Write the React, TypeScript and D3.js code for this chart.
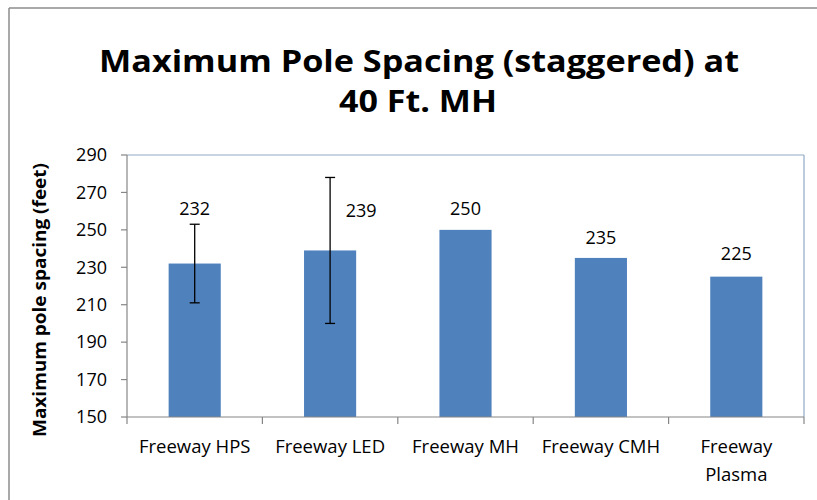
import React from 'react';
import * as d3 from 'd3';

const categories = ['Freeway HPS', 'Freeway LED', 'Freeway MH', 'Freeway CMH', 'Freeway Plasma'];
const tickLines = [['Freeway HPS'], ['Freeway LED'], ['Freeway MH'], ['Freeway CMH'], ['Freeway', 'Plasma']];
const values = [232, 239, 250, 235, 225];
const errors = [21, 39, 0, 0, 0];
// where each data label sits (in axis units), labels were dragged by hand in the original
const labelAt = [261.5, 260, 261.5, 246, 237.5];
const yTicks = [150, 170, 190, 210, 230, 250, 270, 290];

const titleLines = ['Maximum Pole Spacing (staggered) at', '40 Ft. MH'];
const yTitle = 'Maximum pole spacing (feet)';

const font = "'Open Sans', 'Liberation Sans', sans-serif";

const App: React.FC = () => {
  const W = 817;
  const H = 500;
  const plot = { left: 127, right: 804, top: 155, bottom: 417 };

  const x = d3.scaleBand<string>()
    .domain(categories)
    .range([plot.left, plot.right]);
  const y = d3.scaleLinear()
    .domain([150, 290])
    .range([plot.bottom, plot.top]);

  const barW = x.bandwidth() * 0.385;
  const blue = '#4f81bd';
  const axisGrey = '#868686';

  return (
    <svg width={W} height={H} style={{ position: 'absolute', left: 0, top: 0, background: 'white' }}>
      {/* chart border (only top and left visible) */}
      <line x1={9} x2={W} y1={8} y2={8} stroke="#8c8c8c" strokeWidth={1.5} />
      <line x1={9} x2={9} y1={8} y2={H} stroke="#8c8c8c" strokeWidth={1.5} />

      {/* title */}
      <text x={419} y={72} textAnchor="middle" fontFamily={font} fontWeight="bold" fontSize={31}
        textLength={640} lengthAdjust="spacingAndGlyphs">{titleLines[0]}</text>
      <text x={418} y={112} textAnchor="middle" fontFamily={font} fontWeight="bold" fontSize={31}
        textLength={158} lengthAdjust="spacingAndGlyphs">{titleLines[1]}</text>

      {/* plot area frame top / right */}
      <line x1={plot.left} x2={plot.right} y1={plot.top} y2={plot.top} stroke="#8fa9c6" strokeWidth={1.2} />
      <line x1={plot.right} x2={plot.right} y1={plot.top} y2={plot.bottom} stroke="#8fa9c6" strokeWidth={1.2} />

      {/* bars */}
      {categories.map((c, i) => {
        const cx = (x(c) as number) + x.bandwidth() / 2;
        return (
          <rect key={c} x={cx - barW / 2} y={y(values[i])} width={barW}
            height={plot.bottom - y(values[i])} fill={blue} />
        );
      })}

      {/* error bars */}
      {categories.map((c, i) => {
        if (!errors[i]) return null;
        const cx = (x(c) as number) + x.bandwidth() / 2;
        const y1 = y(values[i] + errors[i]);
        const y2 = y(values[i] - errors[i]);
        return (
          <g key={c} stroke="#000" strokeWidth={1.3}>
            <line x1={cx} x2={cx} y1={y1} y2={y2} />
            <line x1={cx - 5} x2={cx + 5} y1={y1} y2={y1} />
            <line x1={cx - 5} x2={cx + 5} y1={y2} y2={y2} />
          </g>
        );
      })}

      {/* data labels */}
      {categories.map((c, i) => {
        const cx = (x(c) as number) + x.bandwidth() / 2 + (i === 1 ? 31 : 0);
        return (
          <text key={c} x={cx} y={y(labelAt[i])} dy="0.35em" textAnchor="middle"
            fontFamily={font} fontSize={18} fill="#000">{values[i]}</text>
        );
      })}

      {/* y axis */}
      <line x1={plot.left} x2={plot.left} y1={plot.top} y2={plot.bottom} stroke={axisGrey} strokeWidth={1.2} />
      {yTicks.map(t => (
        <g key={t}>
          <line x1={plot.left - 6} x2={plot.left} y1={y(t)} y2={y(t)} stroke={axisGrey} strokeWidth={1.2} />
          <text x={plot.left - 20} y={y(t)} dy="0.35em" textAnchor="end" fontFamily={font} fontSize={18}
            fill="#000">{t}</text>
        </g>
      ))}

      {/* x axis */}
      <line x1={plot.left} x2={plot.right} y1={plot.bottom} y2={plot.bottom} stroke={axisGrey} strokeWidth={1.2} />
      {categories.map(c => (
        <line key={'t' + c} x1={x(c) as number} x2={x(c) as number} y1={plot.bottom} y2={plot.bottom + 7}
          stroke={axisGrey} strokeWidth={1.2} />
      ))}
      <line x1={plot.right} x2={plot.right} y1={plot.bottom} y2={plot.bottom + 7} stroke={axisGrey} strokeWidth={1.2} />
      {categories.map((c, i) => {
        const cx = (x(c) as number) + x.bandwidth() / 2;
        return (
          <text key={'l' + c} x={cx} y={447} textAnchor="middle" fontFamily={font} fontSize={18.5}
            fill="#000">
            {tickLines[i].map((ln, k) => (
              <tspan key={k} x={cx} dy={k === 0 ? '0.35em' : 28}>{ln}</tspan>
            ))}
          </text>
        );
      })}

      {/* y axis title */}
      <text transform={`translate(46,${300}) rotate(-90)`} textAnchor="middle" fontFamily={font}
        fontWeight="bold" fontSize={17} textLength={274} lengthAdjust="spacingAndGlyphs" fill="#000">
        {yTitle}
      </text>
    </svg>
  );
};

export default App;
